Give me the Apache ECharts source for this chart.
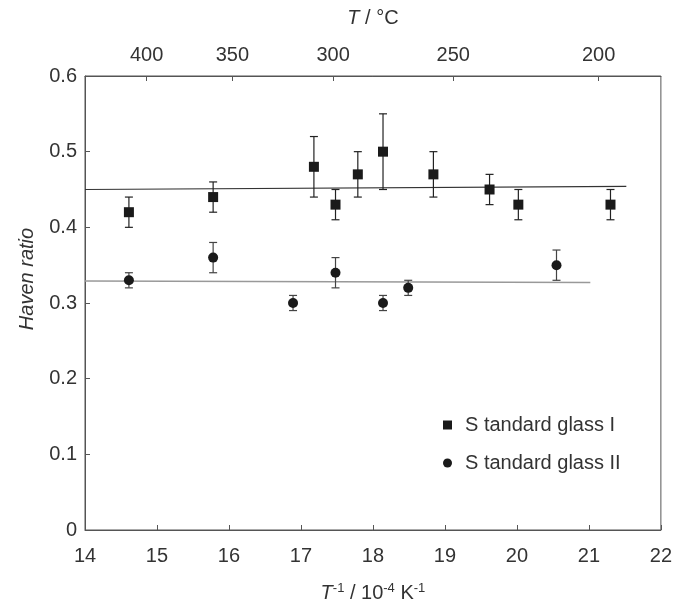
<!DOCTYPE html>
<html>
<head>
<meta charset="utf-8">
<script src="https://cdn.jsdelivr.net/npm/echarts@6/dist/echarts.min.js"></script>
<style>html,body{margin:0;padding:0;background:#fff}#c{width:675px;height:613px}</style>
</head>
<body>
<div id="c"></div>
<script>
// Standard glass I (squares)
var xI = [14.61, 15.78, 17.18, 17.48, 17.79, 18.14, 18.84, 19.62, 20.02, 21.30];
var yI = [0.42, 0.44, 0.48, 0.43, 0.47, 0.50, 0.47, 0.45, 0.43, 0.43];
var eI = [0.02, 0.02, 0.04, 0.02, 0.03, 0.05, 0.03, 0.02, 0.02, 0.02];
// Standard glass II (circles)
var xII = [14.61, 15.78, 16.89, 17.48, 18.14, 18.49, 20.55];
var yII = [0.33, 0.36, 0.30, 0.34, 0.30, 0.32, 0.35];
var eII = [0.01, 0.02, 0.01, 0.02, 0.01, 0.01, 0.02];
// mean lines
var fitIx = [14, 21.52], fitIy = [0.450, 0.454];
var fitIIx = [14, 21.02], fitIIy = [0.329, 0.327];
// axes ticks
var bottomTicks = [14, 15, 16, 17, 18, 19, 20, 21, 22];
var yTicks = [0, 0.1, 0.2, 0.3, 0.4, 0.5, 0.6];
var topTicksC = [400, 350, 300, 250, 200];
var topTickPos = topTicksC.map(function (t) { return 1e4 / (t + 273.15); });

var FONT = '"Liberation Sans", Arial, sans-serif';
var TXT = '#333';
var FS = 20;

function pts(xs, ys) { return xs.map(function (x, i) { return [x, ys[i]]; }); }
function errData(xs, ys, es) { return xs.map(function (x, i) { return [x, ys[i] - es[i], ys[i] + es[i]]; }); }
function errRender(color) {
  return function (params, api) {
    var x = api.value(0);
    var lo = api.coord([x, api.value(1)]);
    var hi = api.coord([x, api.value(2)]);
    var hw = 4;
    var st = { stroke: color, lineWidth: 1.2 };
    return {
      type: 'group',
      children: [
        { type: 'line', shape: { x1: lo[0], y1: lo[1], x2: hi[0], y2: hi[1] }, style: st },
        { type: 'line', shape: { x1: lo[0] - hw, y1: lo[1], x2: lo[0] + hw, y2: lo[1] }, style: st },
        { type: 'line', shape: { x1: hi[0] - hw, y1: hi[1], x2: hi[0] + hw, y2: hi[1] }, style: st }
      ]
    };
  };
}

var chart = echarts.init(document.getElementById('c'));
chart.setOption({
  animation: false,
  backgroundColor: '#fff',
  grid: { left: 85, right: 13, top: 76, bottom: 83, show: true, borderColor: '#555', borderWidth: 1 },
  legend: {
    left: 438, top: 410, orient: 'vertical', itemGap: 18, itemWidth: 9, itemHeight: 9,
    textStyle: { fontFamily: FONT, fontSize: FS, color: TXT, padding: [0, 0, 0, 8] },
    data: [
      { name: 'S tandard glass I', icon: 'rect' },
      { name: 'S tandard glass II', icon: 'circle' }
    ]
  },
  xAxis: [
    {
      type: 'value', min: 14, max: 22, interval: 1, position: 'bottom',
      name: '{i|T}{s|-1} / 10{s|-4} K{s|-1}', nameLocation: 'middle', nameGap: 52,
      nameTextStyle: {
        fontFamily: FONT, fontSize: FS, color: TXT,
        rich: { i: { fontStyle: 'italic', fontFamily: FONT, fontSize: FS, color: TXT },
                s: { fontSize: 13, verticalAlign: 'top', padding: [0, 0, 10, 0], fontFamily: FONT, color: TXT } }
      },
      axisLine: { show: true, lineStyle: { color: '#555' } },
      axisTick: { show: true, inside: true, length: 5, lineStyle: { color: '#555' } },
      axisLabel: { fontFamily: FONT, fontSize: FS, color: TXT, margin: 16,
        customValues: bottomTicks, formatter: function (v) { return String(v); } },
      splitLine: { show: false }
    },
    {
      type: 'value', min: 14, max: 22, position: 'top',
      name: '{i|T} / \u00B0C', nameLocation: 'middle', nameGap: 48,
      nameTextStyle: {
        fontFamily: FONT, fontSize: FS, color: TXT,
        rich: { i: { fontStyle: 'italic', fontFamily: FONT, fontSize: FS, color: TXT } }
      },
      axisLine: { show: true, lineStyle: { color: '#555' } },
      axisTick: { show: true, inside: true, length: 5, customValues: topTickPos, lineStyle: { color: '#555' } },
      axisLabel: {
        fontFamily: FONT, fontSize: FS, color: TXT, margin: 11, customValues: topTickPos,
        formatter: function (v) {
          var best = 0, bd = 1e9;
          topTickPos.forEach(function (p, i) { var d = Math.abs(p - v); if (d < bd) { bd = d; best = i; } });
          return String(topTicksC[best]);
        }
      },
      splitLine: { show: false }
    }
  ],
  yAxis: {
    type: 'value', min: 0, max: 0.6, interval: 0.1,
    axisLine: { show: true, lineStyle: { color: '#555' } },
    axisTick: { show: true, inside: true, length: 5, lineStyle: { color: '#555' } },
    axisLabel: { fontFamily: FONT, fontSize: FS, color: TXT, margin: 8,
      customValues: yTicks, formatter: function (v) { return v === 0 ? '0' : v.toFixed(1); } },
    splitLine: { show: false }
  },
  graphic: [{
    type: 'text', x: 27, y: 279, rotation: Math.PI / 2,
    style: { text: 'Haven ratio', fontFamily: FONT, fontSize: FS, fontStyle: 'italic', fill: TXT,
             align: 'center', verticalAlign: 'middle' }
  }],
  series: [
    { type: 'line', data: pts(fitIx, fitIy), showSymbol: false, symbol: 'none', lineStyle: { color: '#333', width: 1.2 }, silent: true, z: 1 },
    { type: 'line', data: pts(fitIIx, fitIIy), showSymbol: false, symbol: 'none', lineStyle: { color: '#999', width: 1.6 }, silent: true, z: 1 },
    { type: 'custom', data: errData(xI, yI, eI), renderItem: errRender('#222'), encode: { x: 0, y: [1, 2] }, z: 2 },
    { type: 'custom', data: errData(xII, yII, eII), renderItem: errRender('#444'), encode: { x: 0, y: [1, 2] }, z: 2 },
    { name: 'S tandard glass I', type: 'scatter', data: pts(xI, yI), symbol: 'rect', symbolSize: 10, itemStyle: { color: '#1a1a1a', opacity: 1 }, z: 3 },
    { name: 'S tandard glass II', type: 'scatter', data: pts(xII, yII), symbol: 'circle', symbolSize: 10, itemStyle: { color: '#1a1a1a', opacity: 1 }, z: 3 }
  ]
});
</script>
</body>
</html>
